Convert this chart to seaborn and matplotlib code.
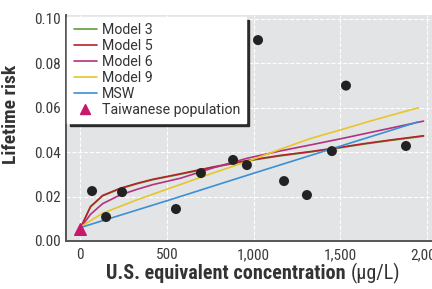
import pandas as pd
import seaborn as sns
import matplotlib.pyplot as plt
from matplotlib.lines import Line2D

obs_x = [69, 150, 242, 553, 697, 882, 962, 1026, 1176, 1308, 1452, 1533, 1879]
obs_y = [0.0225, 0.0108, 0.0220, 0.0144, 0.0306, 0.0365, 0.0342, 0.0905,
         0.0270, 0.0207, 0.0405, 0.0700, 0.0428]

taiwan_x = [0]
taiwan_y = [0.0055]

# model curves, points
m5_x = [0, 20, 60, 130, 230, 330, 420, 580, 770, 960, 1150, 1330, 1500, 1650, 1800, 1980]
m5_y = [0.0055, 0.0088, 0.0155, 0.0205, 0.0237, 0.0260, 0.0278, 0.0303, 0.0334,
        0.0362, 0.0385, 0.0403, 0.0422, 0.0440, 0.0456, 0.0474]
m3_x = m5_x
m3_y = [0.0055, 0.0087, 0.0153, 0.0203, 0.0235, 0.0258, 0.0276, 0.0301, 0.0332,
        0.0360, 0.0383, 0.0401, 0.0420, 0.0438, 0.0454, 0.0472]
m6_x = m5_x
m6_y = [0.0055, 0.0077, 0.0120, 0.0168, 0.0207, 0.0233, 0.0254, 0.0283, 0.0330,
        0.0372, 0.0405, 0.0433, 0.0460, 0.0485, 0.0510, 0.0540]
m9_x = [0, 20, 130, 330, 580, 770, 960, 1150, 1330, 1500, 1650, 1800, 1950]
m9_y = [0.0062, 0.0072, 0.0125, 0.0186, 0.0255, 0.0307, 0.0357, 0.0412, 0.0462,
        0.0500, 0.0535, 0.0568, 0.0600]
msw_x = [0, 520, 1000, 1360, 1950]
msw_y = [0.0060, 0.0186, 0.0305, 0.0393, 0.0537]

models = ["Model 3", "Model 5", "Model 6", "Model 9", "MSW"]
palette = {"Model 3": "#5f9e3a", "Model 5": "#b5232b", "Model 6": "#b3317f",
           "Model 9": "#e6c62a", "MSW": "#3b8fd6"}

xticks = [0, 500, 1000, 1500, 2000]
xticklabels = ["0", "500", "1,000", "1,500", "2,000"]
yticks = [0.00, 0.02, 0.04, 0.06, 0.08, 0.10]

frames = []
for name, xs, ys in zip(models, [m3_x, m5_x, m6_x, m9_x, msw_x],
                        [m3_y, m5_y, m6_y, m9_y, msw_y]):
    frames.append(pd.DataFrame({"conc": xs, "risk": ys, "model": name}))
lines = pd.concat(frames, ignore_index=True)
points = pd.DataFrame({"conc": obs_x, "risk": obs_y})

sns.set_theme(style="white")
FONT = ["Roboto Condensed", "Liberation Sans Narrow", "Liberation Sans", "DejaVu Sans"]
plt.rcParams["font.family"] = FONT

fig = plt.figure(figsize=(4.32, 2.89), dpi=100)
ax = fig.add_axes([0.1528, 0.1661, 0.8472, 0.782])
ax.set_facecolor("#e3e4e6")

sns.lineplot(data=lines, x="conc", y="risk", hue="model", hue_order=models,
             palette=palette, estimator=None, sort=False, lw=1.2, ax=ax,
             legend=False)
sns.scatterplot(data=points, x="conc", y="risk", color="#222222", s=52,
                edgecolor="none", ax=ax, zorder=4)
ax.scatter(taiwan_x, taiwan_y, marker="^", s=70, color="#c8186a", zorder=5,
           clip_on=False)

ax.set_xlim(-81, 2029)
ax.set_ylim(0, 0.1018)
ax.set_xticks(xticks)
ax.set_xticklabels(xticklabels)
ax.set_yticks(yticks)
ax.set_yticklabels([f"{v:.2f}" for v in yticks])
ax.tick_params(length=0, labelsize=11, colors="#3a3a3a")
ax.tick_params(axis="x", pad=5)
ax.tick_params(axis="y", pad=4)
ax.grid(True, color="white", ls="--", lw=0.8)

for s in ["top", "right"]:
    ax.spines[s].set_visible(False)
for s in ["left", "bottom"]:
    ax.spines[s].set_color("#555555")
    ax.spines[s].set_linewidth(1.4)

# x label: bold part + regular unit
ax.set_xlabel("")
ax.text(0.764, -0.145, "U.S. equivalent concentration", transform=ax.transAxes,
        ha="right", va="center", fontsize=14.5, fontweight="bold", color="#333333")
ax.text(0.777, -0.145, "(\u00b5g/L)", transform=ax.transAxes,
        ha="left", va="center", fontsize=14.5, color="#333333")
ax.set_ylabel("Lifetime risk", fontsize=14, fontweight="bold", color="#333333")
ax.yaxis.set_label_coords(-0.126, 0.562)

handles = [Line2D([], [], color=palette[m], lw=1.2) for m in models]
handles.append(Line2D([], [], marker="^", color="#c8186a", ls="none", markersize=6.5))
labels = models + ["Taiwanese population"]
leg = ax.legend(handles, labels, loc="upper left", bbox_to_anchor=(0.004, 0.991),
                prop={"family": ["Roboto", "DejaVu Sans"], "size": 10.2},
                frameon=True, fancybox=False, framealpha=1,
                facecolor="white", edgecolor="white", handlelength=1.62,
                handletextpad=0.35, labelspacing=0.14, borderpad=0.44,
                borderaxespad=0.0,
                shadow={"color": "#2b2b2b", "alpha": 1})
for t in leg.get_texts():
    t.set_color("#333333")

fig.savefig("out.png", dpi=100)
